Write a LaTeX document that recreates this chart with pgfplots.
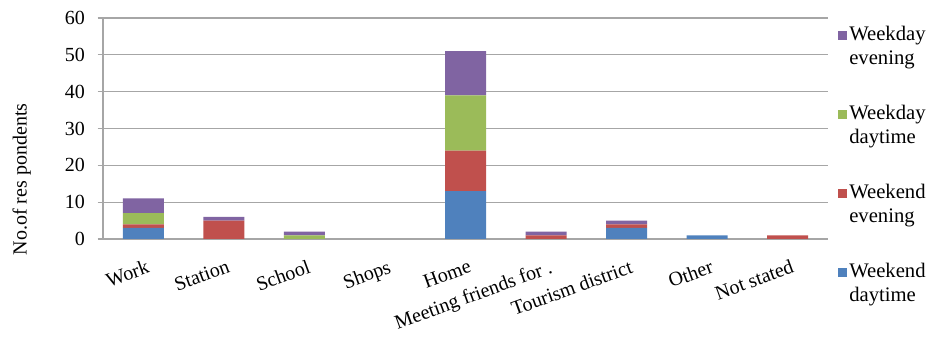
\documentclass[border=0pt]{standalone}
\usepackage{pgfplots}
\pgfplotsset{compat=1.18}
\usepackage{fontspec}
\setmainfont{Liberation Serif}
\definecolor{cblue}{HTML}{4F81BD}
\definecolor{cred}{HTML}{C0504D}
\definecolor{cgreen}{HTML}{9BBB59}
\definecolor{cpurple}{HTML}{8064A2}
\definecolor{gridc}{HTML}{A6A6A6}
\begin{document}
\begin{tikzpicture}
\begin{axis}[
  name=ax,
  scale only axis,
  width=543.75pt, height=165.75pt,
  ybar stacked,
  bar width=30.75pt,
  xmin=-0.5, xmax=8.5,
  ymin=0, ymax=60,
  ytick={0,10,...,60},
  xtick={0,...,8},
  xticklabels={Work,Station,School,Shops,Home,Meeting friends for .,Tourism district,Other,Not stated},
  x tick label style={rotate=20, anchor=north east, font=\fontsize{15}{17}\selectfont, xshift=-1pt, yshift=-10pt, inner sep=1pt},
  y tick label style={font=\fontsize{15}{17}\selectfont, xshift=-6pt},
  /pgf/number format/assume math mode=true,
  ymajorgrids,
  major grid style={gridc, line width=0.8pt},
  axis x line*=bottom,
  axis y line*=left,
  axis line style={gridc, line width=0.8pt},
  major x tick style={draw=none},
  major y tick style={gridc, line width=0.8pt},
  tick align=outside,
  major tick length=4pt,
  ylabel={No.of res pondents},
  ylabel style={font=\fontsize{15}{17}\selectfont, at={(axis description cs:-0.112,0.27)}, anchor=center, rotate=0},
  reverse legend,
  legend style={at={(axis description cs:1,1)}, anchor=north west, xshift=7pt, yshift=-4pt,
    draw=none, fill=none, inner sep=0pt,
    font=\fontsize{15.5}{18}\selectfont, row sep=25pt,
    cells={align=left, anchor=west}},
  legend image code/.code={\fill[#1] (0pt,5pt) rectangle (6.75pt,11.75pt);},
  draw=none,
]
\addplot+[fill=cblue, draw=none] coordinates {(0,3) (1,0) (2,0) (3,0) (4,13) (5,0) (6,3) (7,1) (8,0)};
\addplot+[fill=cred, draw=none] coordinates {(0,1) (1,5) (2,0) (3,0) (4,11) (5,1) (6,1) (7,0) (8,1)};
\addplot+[fill=cgreen, draw=none] coordinates {(0,3) (1,0) (2,1) (3,0) (4,15) (5,0) (6,0) (7,0) (8,0)};
\addplot+[fill=cpurple, draw=none] coordinates {(0,4) (1,1) (2,1) (3,0) (4,12) (5,1) (6,1) (7,0) (8,0)};
\legend{{Weekend\\daytime},{Weekend\\evening},{Weekday\\daytime},{Weekday\\evening}}
\end{axis}
\pgfresetboundingbox
\path ([shift={(-77.25pt,-81pt)}]ax.south west) rectangle ([shift={(82.5pt,13.5pt)}]ax.north east);
\end{tikzpicture}
\end{document}
